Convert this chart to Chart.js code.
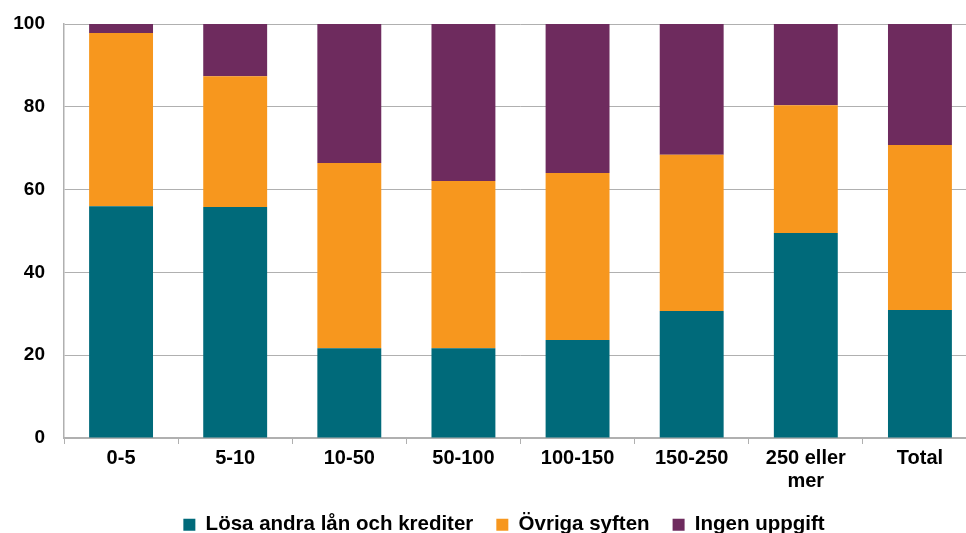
<!DOCTYPE html>
<html>
<head>
<meta charset="utf-8">
<script src="https://cdn.jsdelivr.net/npm/chart.js@4/dist/chart.umd.min.js"></script>
<style>
  html, body { margin: 0; padding: 0; overflow: hidden; background: #fff; }
  #wrap { width: 1008px; height: 545px; }
</style>
</head>
<body>
<div id="wrap"><canvas id="c" width="1008" height="545"></canvas></div>
<script>
const categories = ["0-5", "5-10", "10-50", "50-100", "100-150", "150-250", ["250 eller", "mer"], "Total"];
const losaAndraLan = [56.0, 55.8, 21.7, 21.7, 23.7, 30.7, 49.5, 30.9];
const ovrigaSyften = [41.8, 31.6, 44.7, 40.4, 40.3, 37.7, 30.9, 39.9];
const ingenUppgift = [2.2, 12.6, 33.6, 37.9, 36.0, 31.6, 19.6, 29.2];
const yTicks = [0, 20, 40, 60, 80, 100];
const seriesNames = ["Lösa andra lån och krediter", "Övriga syften", "Ingen uppgift"];

const family = "'Liberation Sans', Arial, sans-serif";
const gridColor = "#B0B0B0";

new Chart(document.getElementById("c"), {
  type: "bar",
  data: {
    labels: categories,
    datasets: [
      { label: seriesNames[0], data: losaAndraLan, backgroundColor: "#006A7A" },
      { label: seriesNames[1], data: ovrigaSyften, backgroundColor: "#F7971E" },
      { label: seriesNames[2], data: ingenUppgift, backgroundColor: "#6E2B5E" }
    ]
  },
  options: {
    responsive: false,
    animation: false,
    devicePixelRatio: 1,
    layout: { padding: { top: 24, left: 0, right: 0, bottom: 0 } },
    datasets: { bar: { categoryPercentage: 1.0, barPercentage: 0.56, borderWidth: 0 } },
    plugins: {
      legend: {
        position: "bottom",
        labels: {
          color: "#000",
          font: { family: family, size: 20.5, weight: "bold" },
          boxWidth: 12,
          boxHeight: 12,
          padding: 23
        }
      },
      tooltip: { enabled: false }
    },
    scales: {
      x: {
        stacked: true,
        grid: { display: true, drawOnChartArea: false, drawTicks: true, tickLength: 6, color: gridColor, lineWidth: 1 },
        border: { color: gridColor, width: 1.5 },
        ticks: { color: "#000", font: { family: family, size: 20, weight: "bold", lineHeight: 1.15 }, padding: 3, maxRotation: 0, autoSkip: false },
        afterFit: s => { s.height = 53.5; }
      },
      y: {
        stacked: true,
        min: 0, max: 100,
        afterBuildTicks: s => { s.ticks = yTicks.map(v => ({ value: v })); },
        grid: { color: gridColor, lineWidth: 1, drawTicks: true, tickLength: 19, tickColor: "rgba(0,0,0,0)" },
        border: { color: gridColor, width: 1.5 },
        ticks: { color: "#000", font: { family: family, size: 19, weight: "bold" }, padding: 0 },
        afterFit: s => { s.width = 64; }
      },
      y2: {
        position: "right",
        min: 0, max: 100,
        display: true,
        grid: { display: false, drawTicks: false },
        border: { display: false },
        ticks: { display: false },
        afterFit: s => { s.width = 31; }
      }
    }
  }
});
</script>
</body>
</html>
